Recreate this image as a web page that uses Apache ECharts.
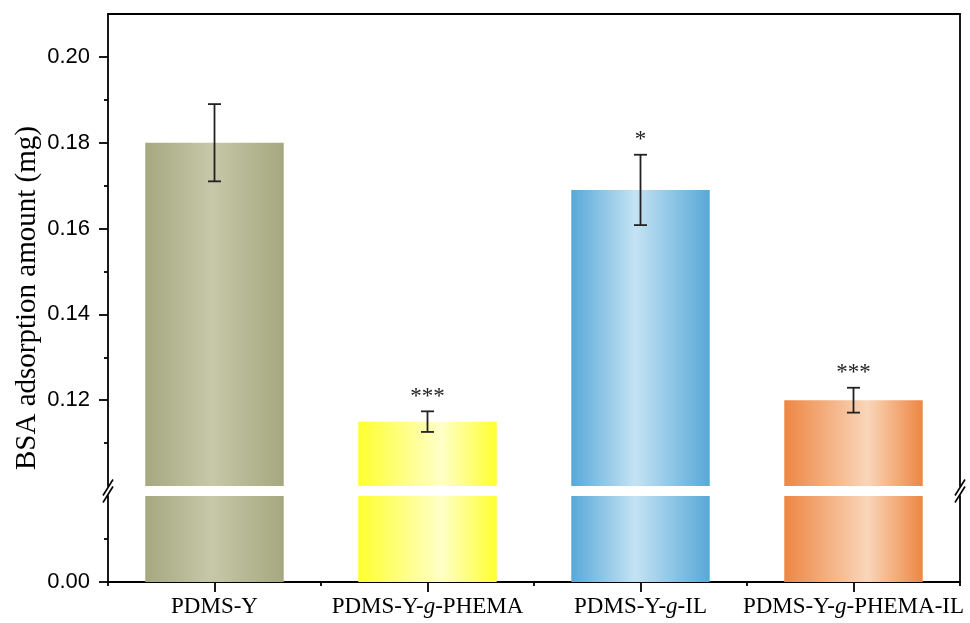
<!DOCTYPE html>
<html>
<head>
<meta charset="utf-8">
<script src="https://cdn.jsdelivr.net/npm/echarts@6/dist/echarts.min.js"></script>
<style>
  html, body { margin: 0; padding: 0; background: #fff; }
  #chart { width: 970px; height: 623px; }
</style>
</head>
<body>
<div id="chart"></div>
<script>
// Samples and measured BSA adsorption (mean ± SD, mg)
const categories = ['PDMS-Y', 'PDMS-Y-g-PHEMA', 'PDMS-Y-g-IL', 'PDMS-Y-g-PHEMA-IL'];
const meanValues = [0.180, 0.115, 0.169, 0.120];
const sdValues = [0.009, 0.0024, 0.0082, 0.0029];
const significance = ['', '***', '*', '***'];

// Broken value axis: upper and lower segments
const upperTicks = [0.12, 0.14, 0.16, 0.18, 0.20];
const upperMinorTicks = [0.11, 0.13, 0.15, 0.17, 0.19];
const lowerTicks = [0.00];
const lowerMinorTicks = [0.01];

// Bar fills: edge colour, centre colour, centre position
const barShades = [
  ['#a5a87f', '#c6c8a8', 0.48],
  ['#ffff30', '#ffffc8', 0.6],
  ['#58a8d8', '#c4e3f4', 0.46],
  ['#ee8642', '#f9d6ba', 0.6]
];

const SERIF = '"Liberation Serif", "Times New Roman", serif';
const SANS = '"Liberation Sans", Arial, sans-serif';
const AXIS_COLOR = '#000';
const AXIS_W = 1.8;

function gradient(shade) {
  return new echarts.graphic.LinearGradient(0, 0, 1, 0, [
    { offset: 0, color: shade[0] },
    { offset: shade[2], color: shade[1] },
    { offset: 1, color: shade[0] }
  ]);
}

const barData = meanValues.map((v, i) => ({
  value: v,
  itemStyle: { color: gradient(barShades[i]) }
}));

const errData = meanValues.map((v, i) => [i, v, sdValues[i]]);

const chart = echarts.init(document.getElementById('chart'), null, { renderer: 'canvas' });

const axisLine = { show: true, onZero: false, lineStyle: { color: AXIS_COLOR, width: AXIS_W } };
const hidden = { show: false };

const grids = [
  { left: 108, right: 10, top: 14, height: 472 },
  { left: 108, right: 10, top: 496, height: 86 }
];

function catLabel(name) {
  return name.replace('-g-', '-{i|g}-');
}

const option = {
  animation: false,
  grid: grids,
  xAxis: [
    { // frame top edge
      type: 'category', gridIndex: 0, data: categories, position: 'top',
      axisLine: axisLine, axisTick: hidden, axisLabel: hidden, splitLine: hidden
    },
    { // bottom axis with labels and centre ticks
      type: 'category', gridIndex: 1, data: categories, position: 'bottom',
      axisLine: axisLine,
      axisTick: { show: true, alignWithLabel: true, interval: 0, length: 10, inside: false,
                  lineStyle: { color: AXIS_COLOR, width: AXIS_W } },
      axisLabel: {
        interval: 0, margin: 13, color: '#000', fontFamily: SERIF, fontSize: 23,
        formatter: catLabel,
        rich: { i: { fontStyle: 'italic', fontFamily: SERIF, fontSize: 23, color: '#000' } }
      },
      splitLine: hidden
    },
    { // short boundary ticks between categories
      type: 'category', gridIndex: 1, data: categories, position: 'bottom',
      axisLine: { show: false },
      axisTick: { show: true, alignWithLabel: false, interval: 0, length: 4,
                  lineStyle: { color: AXIS_COLOR, width: AXIS_W } },
      axisLabel: hidden, splitLine: hidden
    }
  ],
  yAxis: [
    { // upper segment, left
      type: 'value', gridIndex: 0, min: 0.10, max: 0.21, interval: 0.01, position: 'left',
      axisLine: axisLine,
      axisTick: { show: true, length: 9, customValues: upperTicks,
                  lineStyle: { color: AXIS_COLOR, width: AXIS_W } },
      axisLabel: { customValues: upperTicks, margin: 18, color: '#000', fontFamily: SANS, fontSize: 22,
                   formatter: v => v.toFixed(2) },
      splitLine: hidden
    },
    { // upper segment, minor ticks
      type: 'value', gridIndex: 0, min: 0.10, max: 0.21, interval: 0.01, position: 'left',
      axisLine: { show: false },
      axisTick: { show: true, length: 4, customValues: upperMinorTicks,
                  lineStyle: { color: AXIS_COLOR, width: AXIS_W } },
      axisLabel: hidden, splitLine: hidden
    },
    { // upper segment, right frame
      type: 'value', gridIndex: 0, min: 0.10, max: 0.21, position: 'right',
      axisLine: axisLine, axisTick: hidden, axisLabel: hidden, splitLine: hidden
    },
    { // lower segment, left
      type: 'value', gridIndex: 1, min: 0, max: 0.02, interval: 0.01, position: 'left',
      axisLine: axisLine,
      axisTick: { show: true, length: 9, customValues: lowerTicks,
                  lineStyle: { color: AXIS_COLOR, width: AXIS_W } },
      axisLabel: { customValues: lowerTicks, margin: 18, color: '#000', fontFamily: SANS, fontSize: 22,
                   formatter: v => v.toFixed(2) },
      splitLine: hidden
    },
    { // lower segment, minor ticks
      type: 'value', gridIndex: 1, min: 0, max: 0.02, interval: 0.01, position: 'left',
      axisLine: { show: false },
      axisTick: { show: true, length: 4, customValues: lowerMinorTicks,
                  lineStyle: { color: AXIS_COLOR, width: AXIS_W } },
      axisLabel: hidden, splitLine: hidden
    },
    { // lower segment, right frame
      type: 'value', gridIndex: 1, min: 0, max: 0.02, position: 'right',
      axisLine: axisLine, axisTick: hidden, axisLabel: hidden, splitLine: hidden
    }
  ],
  series: [
    {
      type: 'bar', xAxisIndex: 0, yAxisIndex: 0, data: barData,
      barWidth: '65%', clip: true, silent: true
    },
    {
      type: 'bar', xAxisIndex: 1, yAxisIndex: 3, data: barData,
      barWidth: '65%', clip: true, silent: true
    },
    {
      type: 'custom', xAxisIndex: 0, yAxisIndex: 0, data: errData, silent: true, z: 10,
      renderItem: function (params, api) {
        const i = api.value(0);
        const m = api.value(1);
        const sd = api.value(2);
        const top = api.coord([i, m + sd]);
        const bot = api.coord([i, m - sd]);
        const cap = 6.5;
        const style = { stroke: '#222', lineWidth: 1.8 };
        const children = [
          { type: 'line', shape: { x1: top[0], y1: top[1], x2: bot[0], y2: bot[1] }, style: style },
          { type: 'line', shape: { x1: top[0] - cap, y1: top[1], x2: top[0] + cap, y2: top[1] }, style: style },
          { type: 'line', shape: { x1: bot[0] - cap, y1: bot[1], x2: bot[0] + cap, y2: bot[1] }, style: style }
        ];
        const mark = significance[params.dataIndex];
        if (mark) {
          children.push({
            type: 'text',
            style: {
              text: mark, x: top[0], y: top[1] - 3,
              align: 'center', verticalAlign: 'bottom',
              font: '23px ' + SERIF, fill: '#222'
            }
          });
        }
        return { type: 'group', children: children };
      }
    }
  ]
};

chart.setOption(option);

// Axis break marks and the rotated axis title
const breakTop = chart.convertToPixel({ yAxisIndex: 0 }, 0.10);
const breakBot = chart.convertToPixel({ yAxisIndex: 3 }, 0.02);
const midY = (breakTop + breakBot) / 2;
const gridW = chart.getWidth() - grids[0].left - grids[0].right;
const axisXs = [grids[0].left, grids[0].left + gridW];
const breakMarks = [];
axisXs.forEach(x => {
  [-3.5, 3.5].forEach(dy => {
    breakMarks.push({
      type: 'line',
      shape: { x1: x - 5, y1: midY + dy + 8, x2: x + 5, y2: midY + dy - 8 },
      style: { stroke: '#000', lineWidth: 1.6 },
      z: 20
    });
  });
});

chart.setOption({
  graphic: breakMarks.concat([{
    type: 'text',
    x: 27, y: (grids[0].top + grids[1].top + grids[1].height) / 2,
    rotation: Math.PI / 2,
    style: {
      text: 'BSA adsorption amount (mg)',
      font: '29px ' + SERIF, fill: '#000',
      align: 'center', verticalAlign: 'middle'
    }
  }])
});
</script>
</body>
</html>
